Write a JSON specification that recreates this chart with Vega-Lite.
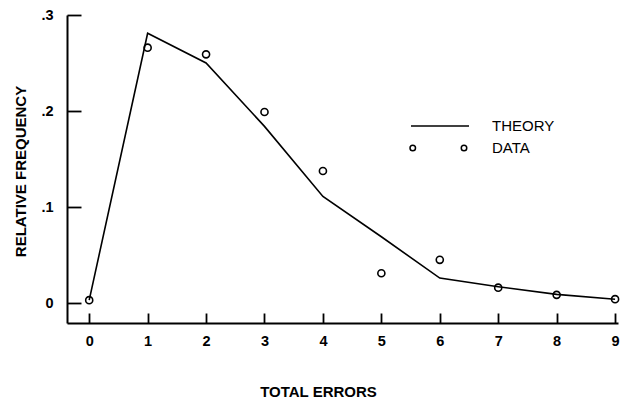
{
  "$schema": "https://vega.github.io/schema/vega-lite/v6.json",
  "width": 551,
  "height": 308,
  "autosize": "none",
  "padding": {"left": 67, "top": 15, "right": 2, "bottom": 79},
  "background": "white",
  "config": {
    "view": {"stroke": null},
    "axis": {
      "grid": false,
      "zindex": 1,
      "domainColor": "black",
      "domainWidth": 2,
      "tickColor": "black",
      "tickWidth": 1.8,
      "tickOpacity": 1,
      "labelColor": "black",
      "labelFont": "Liberation Sans",
      "labelFontWeight": "bold",
      "labelFontSize": 14.5,
      "titleColor": "black",
      "titleFont": "Liberation Sans",
      "titleFontWeight": "bold",
      "titleFontSize": 15
    },
    "legend": {
      "labelFont": "Liberation Sans",
      "labelFontSize": 15,
      "labelColor": "black"
    }
  },
  "datasets": {
    "theory": [
      {"errors": 0, "freq": 0.003},
      {"errors": 1, "freq": 0.281},
      {"errors": 2, "freq": 0.25},
      {"errors": 3, "freq": 0.184},
      {"errors": 4, "freq": 0.111},
      {"errors": 5, "freq": 0.069},
      {"errors": 6, "freq": 0.026},
      {"errors": 7, "freq": 0.017},
      {"errors": 8, "freq": 0.009},
      {"errors": 9, "freq": 0.004}
    ],
    "observed": [
      {"errors": 0, "freq": 0.003, "series": "DATA"},
      {"errors": 1, "freq": 0.266, "series": "DATA"},
      {"errors": 2, "freq": 0.259, "series": "DATA"},
      {"errors": 3, "freq": 0.199, "series": "DATA"},
      {"errors": 4, "freq": 0.1375, "series": "DATA"},
      {"errors": 5, "freq": 0.031, "series": "DATA"},
      {"errors": 6, "freq": 0.045, "series": "DATA"},
      {"errors": 7, "freq": 0.016, "series": "DATA"},
      {"errors": 8, "freq": 0.0085, "series": "DATA"},
      {"errors": 9, "freq": 0.004, "series": "DATA"}
    ]
  },
  "encoding": {
    "x": {
      "field": "errors",
      "type": "quantitative",
      "scale": {"domain": [-0.38, 9.05], "nice": false, "zero": false},
      "axis": {
        "values": [0, 1, 2, 3, 4, 5, 6, 7, 8, 9],
        "ticks": true,
        "tickSize": -10,
        "labelPadding": 21,
        "title": "TOTAL ERRORS",
        "titleX": 251,
        "titleY": 73,
        "titleBaseline": "alphabetic",
        "titleAlign": "center"
      }
    },
    "y": {
      "field": "freq",
      "type": "quantitative",
      "scale": {"domain": [-0.0208, 0.3], "nice": false, "zero": false},
      "axis": {
        "values": [0, 0.1, 0.2, 0.3],
        "ticks": true,
        "tickSize": -14,
        "labelPadding": 28,
        "labelExpr": "datum.value == 0 ? '0' : replace(format(datum.value, '.1f'), '0.', '.')",
        "title": "RELATIVE FREQUENCY",
        "titleX": -47,
        "titleY": 156,
        "titleAngle": -90,
        "titleBaseline": "middle",
        "titleAlign": "center"
      }
    }
  },
  "layer": [
    {
      "data": {"name": "theory"},
      "mark": {"type": "line", "color": "black", "strokeWidth": 1.6}
    },
    {
      "data": {"name": "observed"},
      "mark": {"type": "point", "shape": "circle", "filled": false, "color": "black", "size": 50, "strokeWidth": 1.6, "opacity": 1}
    },
    {
      "data": {"name": "observed"},
      "transform": [{"filter": "datum.series == 'LEGEND'"}],
      "mark": {"type": "point", "filled": false, "color": "black", "strokeWidth": 1.5, "opacity": 1},
      "encoding": {
        "shape": {
          "field": "series",
          "type": "nominal",
          "scale": {
            "domain": ["THEORY", "DATA"],
            "range": [
              "M-2.32,0H2.32",
              "M-2.4,0A0.22,0.22,0,1,0,-1.96,0A0.22,0.22,0,1,0,-2.4,0ZM1.7,0A0.22,0.22,0,1,0,2.14,0A0.22,0.22,0,1,0,1.7,0Z"
            ]
          },
          "legend": {
            "title": null,
            "orient": "none",
            "legendX": 359.5,
            "legendY": 97.5,
            "padding": 0,
            "symbolSize": 625,
            "symbolStrokeColor": "black",
            "symbolFillColor": "transparent",
            "symbolStrokeWidth": 1.5,
            "symbolOpacity": 1,
            "labelOffset": 38.5,
            "rowPadding": 0
          }
        }
      }
    }
  ]
}
